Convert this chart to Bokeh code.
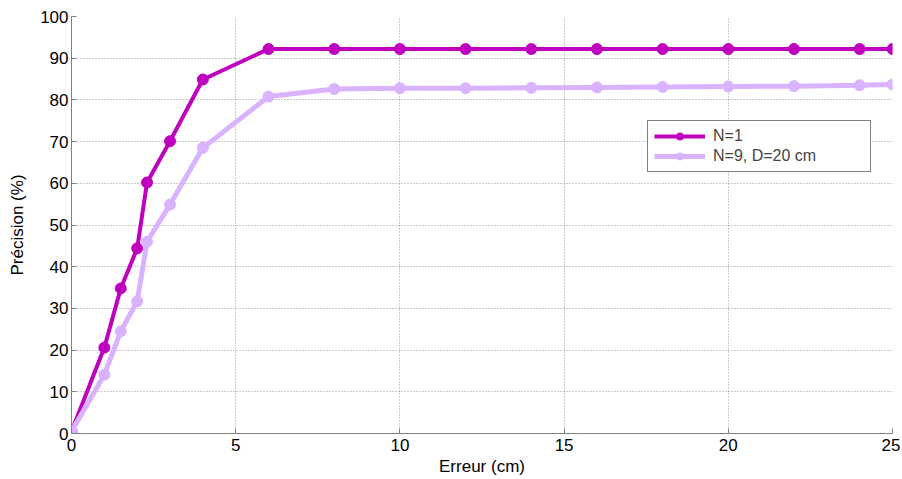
from bokeh.plotting import figure
from bokeh.models import Legend, LegendItem, FixedTicker, Range1d
from bokeh.embed import file_html
from bokeh.resources import INLINE

x_err = [0, 1, 1.5, 2, 2.3, 3, 4, 6, 8, 10, 12, 14, 16, 18, 20, 22, 24, 25]
prec_n1 = [0.5, 20.6, 34.8, 44.4, 60.2, 70.1, 84.9, 92.2, 92.2, 92.2, 92.2, 92.2, 92.2, 92.2, 92.2, 92.2, 92.2, 92.2]
prec_n9 = [0.5, 14.1, 24.5, 31.7, 46.0, 54.9, 68.5, 80.8, 82.6, 82.8, 82.8, 82.9, 83.0, 83.1, 83.2, 83.3, 83.5, 83.7]
labels = ["N=1", "N=9, D=20 cm"]
x_ticks = [0, 5, 10, 15, 20, 25]
y_ticks = [0, 10, 20, 30, 40, 50, 60, 70, 80, 90, 100]

C1 = "#bf00bf"
C2 = "#d9b3ff"
FONT = "Liberation Sans"

p = figure(width=900, height=478, output_backend="svg", toolbar_location=None,
           x_range=Range1d(0, 25), y_range=Range1d(0, 100),
           min_border_left=71, min_border_right=8, min_border_top=16, min_border_bottom=45)
p.outline_line_color = None

for ax, ticks in ((p.xaxis, x_ticks), (p.yaxis, y_ticks)):
    ax.ticker = FixedTicker(ticks=ticks)
    ax.axis_line_color = "#808080"
    ax.major_tick_line_color = "#808080"
    ax.minor_tick_line_color = None
    ax.major_tick_in = 5
    ax.major_tick_out = 0
    ax.major_label_text_font = FONT
    ax.major_label_text_font_size = "17px"
    ax.major_label_text_color = "black"
    ax.axis_label_text_font = FONT
    ax.axis_label_text_font_size = "17px"
    ax.axis_label_text_font_style = "normal"
    ax.axis_label_text_color = "black"

p.xaxis.axis_label = "Erreur (cm)"
p.yaxis.axis_label = "Précision (%)"
p.xaxis.major_label_standoff = 5
p.yaxis.major_label_standoff = 3
p.xaxis.axis_label_standoff = 3
p.yaxis.axis_label_standoff = 10

p.grid.grid_line_color = "#999999"
p.grid.grid_line_dash = "1 2"
p.grid.grid_line_width = 1
p.xgrid.ticker = FixedTicker(ticks=x_ticks)
p.ygrid.ticker = FixedTicker(ticks=y_ticks)

l1 = p.line(x_err, prec_n1, line_color=C1, line_width=4)
s1 = p.scatter(x_err, prec_n1, size=11, fill_color=C1, line_color=C1)
l2 = p.line(x_err, prec_n9, line_color=C2, line_width=5)
s2 = p.scatter(x_err, prec_n9, size=11, fill_color=C2, line_color=C2)

legend = Legend(items=[LegendItem(label=labels[0], renderers=[l1, s1]),
                       LegendItem(label=labels[1], renderers=[l2, s2])],
                location=(576, 261))
legend.label_text_font = FONT
legend.label_text_font_size = "16px"
legend.border_line_color = "black"
legend.border_line_width = 1
legend.background_fill_color = "white"
legend.background_fill_alpha = 1
legend.glyph_width = 51
legend.glyph_height = 18
legend.label_height = 18
legend.label_width = 151
legend.label_standoff = 8
legend.spacing = 2
legend.padding = 6
legend.margin = 0
p.add_layout(legend, "center")

open("out.html", "w").write(file_html(p, INLINE))
